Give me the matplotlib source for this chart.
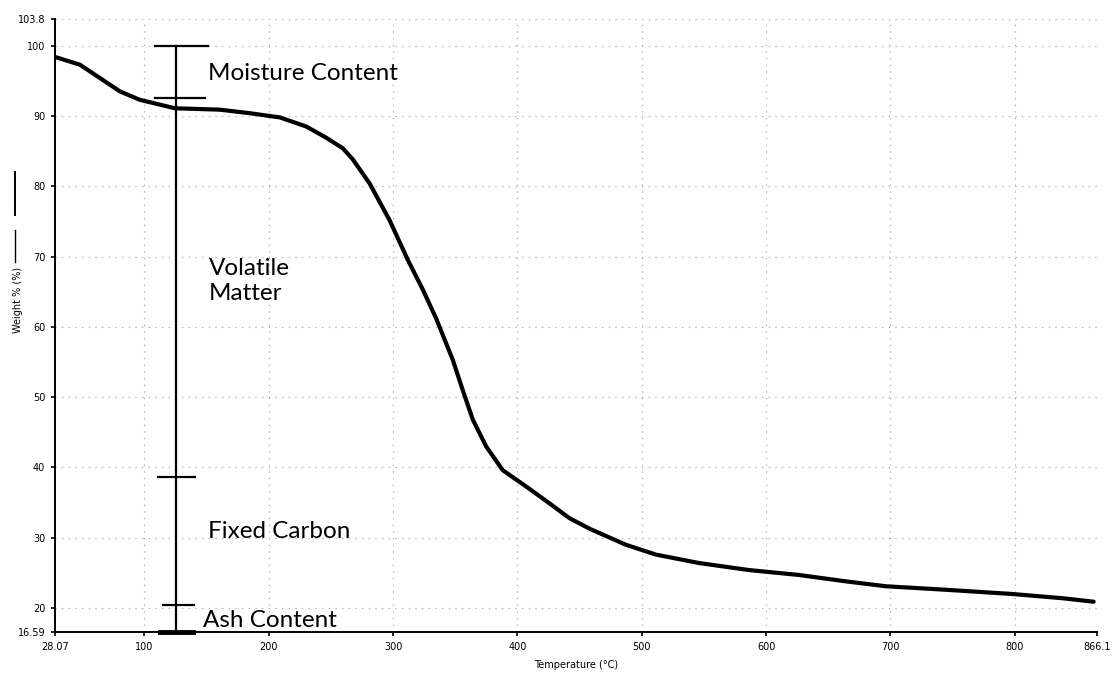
import matplotlib
matplotlib.use("Agg")
import matplotlib.pyplot as plt
from matplotlib.lines import Line2D

# TGA weight-loss curve
temperature = [28.07, 48.1, 64.2, 80.3, 96.3, 124.5, 160.6, 184.7, 208.8, 230.2,
               246.3, 259.6, 267.7, 281.1, 297.1, 311.9, 323.9, 334.6, 348.0,
               356.0, 364.1, 374.8, 388.2, 406.9, 425.7, 441.7, 457.8, 487.2,
               511.4, 546.1, 586.3, 626.5, 663.9, 696.1, 744.3, 797.8, 838.0, 863.4]
weight = [98.4, 97.3, 95.4, 93.5, 92.3, 91.1, 90.9, 90.4, 89.8, 88.5,
          86.9, 85.4, 83.8, 80.4, 75.2, 69.5, 65.3, 61.2, 55.3,
          51.0, 46.8, 43.0, 39.6, 37.3, 34.9, 32.8, 31.3, 29.0,
          27.6, 26.4, 25.4, 24.7, 23.8, 23.1, 22.6, 22.0, 21.4, 20.9]

# proximate analysis bracket levels (weight %)
bracket_temp = 125.0
bracket_levels = [100.0, 92.6, 38.65, 20.4, 16.59]
section_labels = ["Moisture Content", "Volatile\nMatter", "Fixed Carbon", "Ash Content"]

x_ticks = [28.07, 100, 200, 300, 400, 500, 600, 700, 800, 866.1]
x_tick_labels = ["28.07", "100", "200", "300", "400", "500", "600", "700", "800", "866.1"]
y_ticks = [16.59, 20, 30, 40, 50, 60, 70, 80, 90, 100, 103.8]
y_tick_labels = ["16.59", "20", "30", "40", "50", "60", "70", "80", "90", "100", "103.8"]

fig = plt.figure(figsize=(11.2, 6.79), dpi=100)
ax = fig.add_axes([55 / 1120, 47 / 679, 1042 / 1120, 613 / 679])
ax.set_xlim(x_ticks[0], x_ticks[-1])
ax.set_ylim(y_ticks[0], y_ticks[-1])

# dotted grid
grid_kw = dict(color="#9a9a9a", lw=0.8, ls=(0, (1, 5)), zorder=0)
for xv in x_ticks[1:-1]:
    ax.axvline(xv, **grid_kw)
for yv in y_ticks[1:]:
    ax.axhline(yv, **grid_kw)

ax.plot(temperature, weight, color="black", lw=3.0, solid_capstyle="round",
        solid_joinstyle="round", zorder=3)

# bracket marking each mass-loss stage
ax.plot([bracket_temp, bracket_temp], [bracket_levels[-1], bracket_levels[0]],
        color="black", lw=1.6, zorder=4)
bar_spans = [(108.4, 151.0), (108.4, 148.6), (110.8, 140.5), (114.8, 139.7), (112.4, 138.9)]
bar_widths = [1.6, 1.6, 1.6, 1.6, 3.5]
for lvl, (x0, x1), w in zip(bracket_levels, bar_spans, bar_widths):
    ax.plot([x0, x1], [lvl, lvl], color="black", lw=w, zorder=4, clip_on=False)

label_font = dict(family=["Lato", "DejaVu Sans"], fontsize=17.5, color="black",
                  va="center", ha="left", zorder=5)
ax.text(151.5, 96.1, section_labels[0], **label_font)
ax.text(151.5, 66.5, section_labels[1], linespacing=1.25, **label_font)
ax.text(151.5, 30.9, section_labels[2], **label_font)
ax.text(147.5, 18.2, section_labels[3], **label_font)

# axes styling
for side in ("top", "right"):
    ax.spines[side].set_visible(False)
ax.spines["left"].set_linewidth(1.4)
ax.spines["bottom"].set_linewidth(1.4)
ax.set_xticks(x_ticks)
ax.set_xticklabels(x_tick_labels)
ax.set_yticks(y_ticks)
ax.set_yticklabels(y_tick_labels)
ax.tick_params(axis="both", direction="out", length=3, width=1.2, labelsize=7,
               pad=4, colors="black")
ax.set_xlabel("Temperature (°C)", fontsize=7, labelpad=6)

fig.text(18 / 1120, 1 - 300 / 679, "Weight % (%)", rotation=90, fontsize=7,
         ha="center", va="center")
fig.add_artist(Line2D([15 / 1120, 15 / 1120], [1 - 172 / 679, 1 - 215 / 679],
                      color="black", lw=1.4, transform=fig.transFigure))
fig.add_artist(Line2D([15 / 1120, 15 / 1120], [1 - 230 / 679, 1 - 262 / 679],
                      color="black", lw=1.0, transform=fig.transFigure))

fig.savefig("out.png", dpi=100, facecolor="white")
